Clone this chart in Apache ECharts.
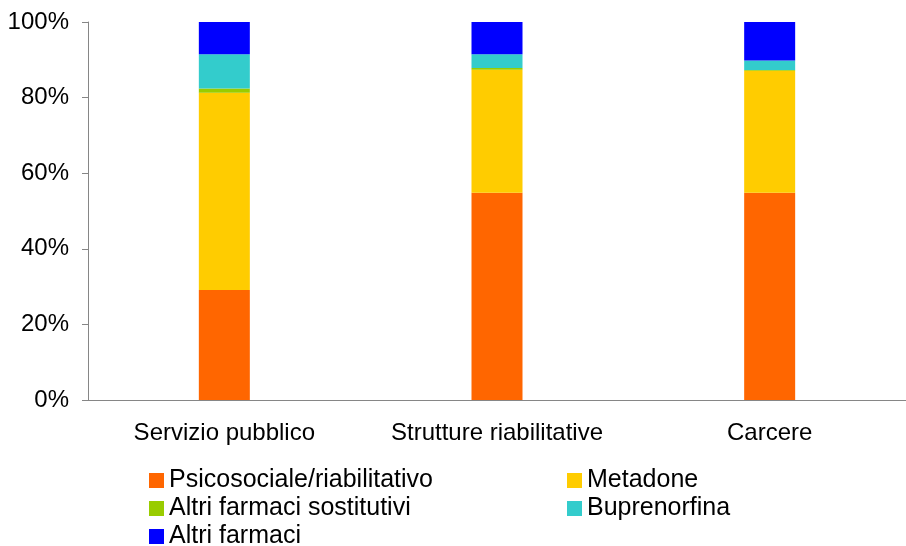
<!DOCTYPE html>
<html>
<head>
<meta charset="utf-8">
<script src="https://cdn.jsdelivr.net/npm/echarts@6/dist/echarts.min.js"></script>
<style>
  html, body { margin: 0; padding: 0; background: #fff; }
  #chart { width: 906px; height: 546px; }
</style>
</head>
<body>
<div id="chart"></div>
<script>
'use strict'

// categorie e valori (%)
const categories = ['Servizio pubblico', 'Strutture riabilitative', 'Carcere']
const psicosociale = [29.1, 54.8, 54.8]
const metadone = [52.2, 32.6, 32.3]
const altriSostitutivi = [1.1, 0.4, 0.2]
const buprenorfina = [9.1, 3.7, 2.5]
const altriFarmaci = [8.5, 8.5, 10.2]
const yTicks = [0, 20, 40, 60, 80, 100]

const font = 'Liberation Sans, Arial, sans-serif'
const axisGrey = '#868686'

const seriesDefs = [
  { name: 'Psicosociale/riabilitativo', data: psicosociale, color: '#FF6600' },
  { name: 'Metadone', data: metadone, color: '#FFCC00' },
  { name: 'Altri farmaci sostitutivi', data: altriSostitutivi, color: '#99CC00' },
  { name: 'Buprenorfina', data: buprenorfina, color: '#33CCCC' },
  { name: 'Altri farmaci', data: altriFarmaci, color: '#0000FF' }
]

// due colonne di legenda, come nell'originale
const legendBase = {
  orient: 'vertical',
  top: 468,
  height: 120,
  icon: 'rect',
  itemWidth: 15,
  itemHeight: 15,
  itemGap: 3,
  padding: 0,
  textStyle: { fontFamily: font, fontSize: 25, color: '#000' }
}

const myChart = echarts.init(document.getElementById('chart'), null, { renderer: 'canvas' })

const option = {
  animation: false,
  backgroundColor: '#fff',
  grid: { left: 88, top: 22, width: 824, height: 378, containLabel: false },
  legend: [
    Object.assign({}, legendBase, { left: 149, data: ['Psicosociale/riabilitativo', 'Altri farmaci sostitutivi', 'Altri farmaci'] }),
    Object.assign({}, legendBase, { left: 567, data: ['Metadone', 'Buprenorfina'] })
  ],
  xAxis: {
    type: 'category',
    data: categories,
    axisLine: { lineStyle: { color: axisGrey, width: 1 } },
    axisTick: { length: 6, lineStyle: { color: axisGrey } },
    axisLabel: { color: '#000', fontFamily: font, fontSize: 24, margin: 21, interval: 0 }
  },
  yAxis: {
    type: 'value',
    min: yTicks[0],
    max: yTicks[yTicks.length - 1],
    interval: 20,
    axisLine: { show: true, lineStyle: { color: axisGrey, width: 1 } },
    axisTick: { show: true, length: 6, lineStyle: { color: axisGrey } },
    splitLine: { show: false },
    axisLabel: { color: '#000', fontFamily: font, fontSize: 24, margin: 19, formatter: '{value}%' }
  },
  series: seriesDefs.map(s => ({
    name: s.name,
    type: 'bar',
    stack: 'tot',
    barWidth: 51,
    data: s.data,
    itemStyle: { color: s.color }
  }))
}

option && myChart.setOption(option)
</script>
</body>
</html>
